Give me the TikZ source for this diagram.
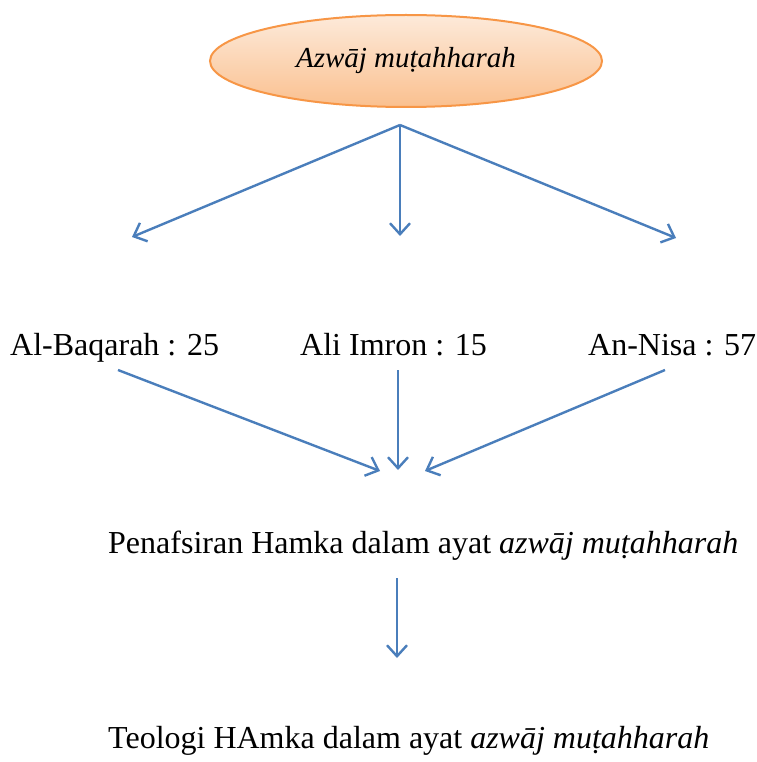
\documentclass[tikz,border=0pt]{standalone}
\usepackage{fontspec}
\setmainfont{Liberation Serif}
\usetikzlibrary{shapes.geometric,arrows.meta}
\begin{document}
\begin{tikzpicture}[x=1pt,y=-1pt,
  conn/.style={draw=arrowblue,line width=2.4pt,-{Straight Barb[length=11pt,width=20pt,line width=2.4pt]}},
  lbl/.style={inner sep=0pt,anchor=base west,font=\fontsize{32}{38}\selectfont},
  oval/.style={ellipse,draw=ovalline,line width=2pt,top color=ovaltop,bottom color=ovalbot,minimum width=392pt,minimum height=92pt,inner sep=0pt,font=\fontsize{29}{34}\selectfont\itshape}]
\definecolor{arrowblue}{HTML}{4A7EBB}
\definecolor{ovalline}{HTML}{F79646}
\definecolor{ovaltop}{HTML}{FDEADA}
\definecolor{ovalbot}{HTML}{FAC08F}
\useasboundingbox (0,0) rectangle (756,762);
\node[oval] (top) at (406,61) {Azwāj muṭahharah};
\node[lbl] (baq) at (10,355) {Al-Baqarah : 25};
\node[lbl] (ali) at (300,355) {Ali Imron : 15};
\node[lbl] (nis) at (588,355) {An-Nisa : 57};
\node[lbl] (pen) at (108,553) {Penafsiran Hamka dalam ayat \textit{azwāj muṭahharah}};
\node[lbl] (teo) at (108,748) {Teologi HAmka dalam ayat \textit{azwāj muṭahharah}};
\coordinate (s1) at (400,125);
\coordinate (e1a) at (132,237);
\coordinate (e1b) at (400,236);
\coordinate (e1c) at (676,238);
\coordinate (s2a) at (118,370);
\coordinate (s2b) at (398,370);
\coordinate (s2c) at (665,370);
\coordinate (e2a) at (380,471);
\coordinate (e2b) at (398,470);
\coordinate (e2c) at (425,471);
\coordinate (s3) at (397,578);
\coordinate (e3) at (397,658);
\draw[conn] (s1) -- (e1a);
\draw[conn] (s1) -- (e1b);
\draw[conn] (s1) -- (e1c);
\draw[conn] (s2a) -- (e2a);
\draw[conn] (s2b) -- (e2b);
\draw[conn] (s2c) -- (e2c);
\draw[conn] (s3) -- (e3);
\end{tikzpicture}
\end{document}
